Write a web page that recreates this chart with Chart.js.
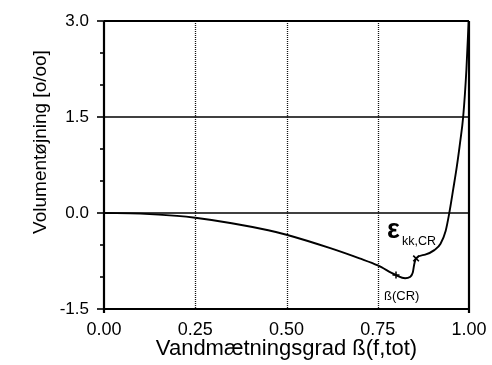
<!DOCTYPE html>
<html>
<head>
<meta charset="utf-8">
<script src="https://cdn.jsdelivr.net/npm/chart.js@4/dist/chart.umd.min.js"></script>
<style>
  body{ margin:0; background:#fff; }
  canvas{ display:block; }
</style>
</head>
<body>
<canvas id="chart" width="492" height="365"></canvas>
<script>
// Vandmaetningsgrad (x) og volumentoejning i promille (y)
const saturation = [0, 0.10, 0.20, 0.25, 0.35, 0.45, 0.50, 0.62, 0.70, 0.75, 0.80, 0.825, 0.838, 0.846, 0.850, 0.855, 0.88, 0.905, 0.922, 0.936, 0.946, 0.957, 0.967, 0.976, 0.984, 0.993, 0.999];
const strain = [0, -0.01, -0.045, -0.075, -0.16, -0.27, -0.34, -0.55, -0.71, -0.82, -0.97, -1.02, -1.0, -0.93, -0.80, -0.71, -0.65, -0.58, -0.48, -0.28, 0, 0.38, 0.74, 1.12, 1.5, 2.25, 3.0];

// kritisk maetningsgrad og tilhoerende toejning
const betaCR = [0.80, -0.97];
const epsCR = [0.855, -0.71];

const xTicks = [0, 0.25, 0.5, 0.75, 1];
const yTicks = [-1.5, 0, 1.5, 3];
const yMinorStep = 0.5;

const xTitle = 'Vandmætningsgrad ß(f,tot)';
const yTitle = 'Volumentøjning [o/oo]';

const FONT = '"Liberation Sans", Arial, Helvetica, sans-serif';

function isMajorY(v){
    return yTicks.some(function(t){ return Math.abs(t - v) < 1e-6; });
}

// rammen, gitteret og akse-streger tegnes her
const framePlugin = {
    id: 'frame',
    beforeDatasetsDraw: function(chart){
        const ctx = chart.ctx;
        const a = chart.chartArea;
        const xs = chart.scales.x;
        const ys = chart.scales.y;
        ctx.save();

        // lodrette prikkede linjer
        ctx.strokeStyle = '#111';
        ctx.lineWidth = 1.3;
        ctx.setLineDash([1, 1]);
        xTicks.slice(1, -1).forEach(function(v){
            const px = Math.round(xs.getPixelForValue(v)) + 0.5;
            ctx.beginPath();
            ctx.moveTo(px, a.top);
            ctx.lineTo(px, a.bottom);
            ctx.stroke();
        });
        ctx.setLineDash([]);

        // vandrette linjer ved hovedmaerkerne
        ctx.strokeStyle = '#000';
        ctx.lineWidth = 1.6;
        yTicks.slice(1, -1).forEach(function(v){
            const py = ys.getPixelForValue(v);
            ctx.beginPath();
            ctx.moveTo(a.left, py);
            ctx.lineTo(a.right, py);
            ctx.stroke();
        });

        // ramme
        ctx.lineWidth = 2.2;
        ctx.beginPath();
        ctx.moveTo(a.left, a.top);
        ctx.lineTo(a.right, a.top);
        ctx.moveTo(a.right, a.top);
        ctx.lineTo(a.right, a.bottom + 4);
        ctx.moveTo(a.left, a.top);
        ctx.lineTo(a.left, a.bottom + 4);
        ctx.moveTo(a.left, a.bottom);
        ctx.lineTo(a.right, a.bottom);
        ctx.stroke();

        // maerker paa y-aksen
        ctx.lineWidth = 1.6;
        for (let v = ys.min; v <= ys.max + 1e-6; v += yMinorStep){
            const py = ys.getPixelForValue(v);
            const len = isMajorY(v) ? 7 : 4;
            ctx.beginPath();
            ctx.moveTo(a.left - len, py);
            ctx.lineTo(a.left, py);
            ctx.stroke();
        }
        ctx.restore();
    },
    afterDraw: function(chart){
        const ctx = chart.ctx;
        const a = chart.chartArea;
        const xs = chart.scales.x;
        const ys = chart.scales.y;
        ctx.save();
        ctx.fillStyle = '#000';

        // aksetitler
        ctx.font = '22px ' + FONT;
        ctx.textAlign = 'center';
        ctx.textBaseline = 'middle';
        ctx.fillText(xTitle, (a.left + a.right) / 2, 349);

        ctx.save();
        ctx.translate(41, 142);
        ctx.rotate(-Math.PI / 2);
        ctx.font = '19px ' + FONT;
        ctx.fillText(yTitle, 0, 0);
        ctx.restore();

        // betegnelser ved de kritiske punkter
        const ex = xs.getPixelForValue(epsCR[0]);
        const ey = ys.getPixelForValue(epsCR[1]);
        ctx.textAlign = 'left';
        ctx.textBaseline = 'alphabetic';
        ctx.font = 'bold 27px ' + FONT;
        ctx.fillText('ε', ex - 29, ey - 20);
        ctx.font = '12.5px ' + FONT;
        ctx.fillText('kk,CR', ex - 14, ey - 13);

        const bx = xs.getPixelForValue(betaCR[0]);
        const by = ys.getPixelForValue(betaCR[1]);
        ctx.font = '13px ' + FONT;
        ctx.fillText('ß(CR)', bx - 12, by + 25);

        ctx.restore();
    }
};

const curve = saturation.map(function(x, i){ return {x: x, y: strain[i]}; });

new Chart(document.getElementById('chart'), {
    type: 'line',
    data: {
        datasets: [
            {
                data: curve,
                borderColor: '#000',
                borderWidth: 1.9,
                pointRadius: 0,
                cubicInterpolationMode: 'monotone',
                fill: false
            },
            {
                data: [{x: betaCR[0], y: betaCR[1]}],
                showLine: false,
                pointStyle: 'cross',
                pointRadius: 3.5,
                borderColor: '#000',
                borderWidth: 1.5
            },
            {
                data: [{x: epsCR[0], y: epsCR[1]}],
                showLine: false,
                pointStyle: 'crossRot',
                pointRadius: 4,
                borderColor: '#000',
                borderWidth: 1.6
            }
        ]
    },
    options: {
        responsive: false,
        animation: false,
        devicePixelRatio: 1,
        layout: { padding: { left: 0, top: 21, right: 23, bottom: 0 } },
        plugins: {
            legend: { display: false },
            tooltip: { enabled: false }
        },
        scales: {
            x: {
                type: 'linear',
                min: 0,
                max: 1,
                grid: { display: false },
                border: { display: false },
                afterFit: function(scale){ scale.height = 56; },
                afterBuildTicks: function(scale){
                    scale.ticks = xTicks.map(function(v){ return {value: v}; });
                },
                ticks: {
                    padding: 2,
                    color: '#000',
                    font: { family: FONT, size: 18 },
                    maxRotation: 0,
                    callback: function(v){ return v.toFixed(2); }
                }
            },
            y: {
                type: 'linear',
                min: -1.5,
                max: 3,
                grid: { display: false },
                border: { display: false },
                afterFit: function(scale){ scale.width = 104; },
                afterBuildTicks: function(scale){
                    scale.ticks = yTicks.map(function(v){ return {value: v}; });
                },
                ticks: {
                    padding: 7,
                    color: '#000',
                    font: { family: FONT, size: 17 },
                    callback: function(v){ return v.toFixed(1); }
                }
            }
        }
    },
    plugins: [framePlugin]
});
</script>
</body>
</html>
